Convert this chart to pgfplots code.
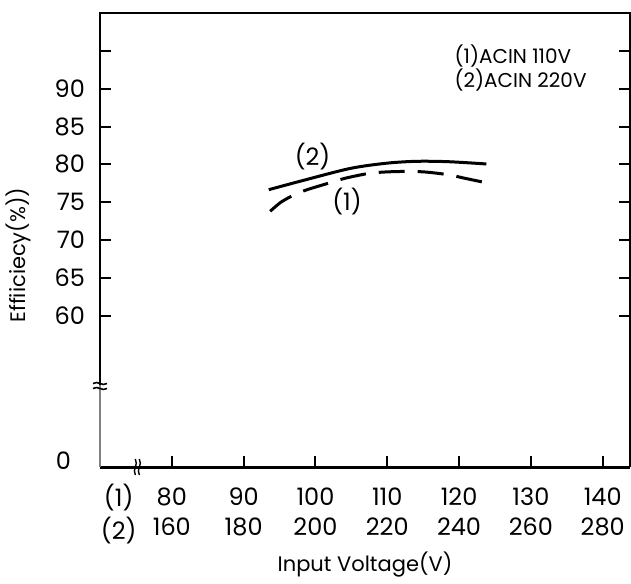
\documentclass[border=0pt]{standalone}
\usepackage{fontspec}
\setmainfont{Poppins}
\usepackage{pgfplots}
\pgfplotsset{compat=1.18}

\begin{document}
\begin{tikzpicture}
\begin{axis}[name=ax,
    scale only axis, width=265pt, height=227pt,
    xmin=70, xmax=143.8, ymin=40, ymax=100,
    axis line style={draw=none},
    clip=false,
    tick align=inside, major tick length=5.5pt,
    tick style={black, line width=1pt},
    xtick pos=bottom, ytick pos=both,
    xtick={80,90,...,140},
    xticklabels={\strut 80\\\strut 160, \strut 90\\\strut 180, \strut 100\\\strut 200,
        \strut 110\\\strut 220, \strut 120\\\strut 240, \strut 130\\\strut 260, \strut 140\\\strut 280},
    extra x ticks={72.6},
    extra x tick labels={\strut(1)\\\strut(2)},
    extra x tick style={major tick length=0pt},
    xticklabel style={align=center, font=\fontsize{12}{15}\selectfont, yshift=-5pt},
    ytick={60,65,...,95},
    yticklabels={60,65,70,75,80,85,90,{}},
    yticklabel style={font=\fontsize{12}{15}\selectfont, xshift=-4pt},
    /pgf/number format/assume math mode=true,
]
% (2) ACIN 220V
\addplot[black, line width=1.5pt, smooth] coordinates {
    (93.5,76.65) (97.8,77.75) (104.8,79.45) (109.9,80.15) (114.1,80.4) (118.5,80.35) (123.8,80.05)
};
% (1) ACIN 110V
\addplot[black, line width=1.5pt, smooth, dash pattern=on 13pt off 6.5pt] coordinates {
    (93.7,73.8) (95.2,75.0) (97.1,76.0) (99.0,76.7) (102.5,77.7) (104.3,78.2) (107.8,78.85)
    (111.5,79.05) (115.1,79.0) (118.7,78.6) (120.6,78.2) (124.1,77.5)
};
% frame
\draw[line width=1.2pt] (axis cs:70,50.8) -- (axis cs:70,100) -- (axis cs:143.8,100) -- (axis cs:143.8,40);
\draw[line width=1.5pt] (axis cs:70,40) -- (axis cs:143.8,40);
\draw[gray, line width=0.6pt] (axis cs:70,40) -- (axis cs:70,50.8);
% break marks
\draw[black, line width=0.8pt] ([shift={(-3.5pt,0.9pt)}]axis cs:70,50.8) .. controls ([shift={(-1pt,2.6pt)}]axis cs:70,50.8) and ([shift={(1pt,-0.8pt)}]axis cs:70,50.8) .. ([shift={(3.5pt,0.9pt)}]axis cs:70,50.8);
\draw[black, line width=0.8pt] ([shift={(-3.5pt,-1.6pt)}]axis cs:70,50.8) .. controls ([shift={(-1pt,0.1pt)}]axis cs:70,50.8) and ([shift={(1pt,-3.3pt)}]axis cs:70,50.8) .. ([shift={(3.5pt,-1.6pt)}]axis cs:70,50.8);
\draw[black, line width=0.7pt] ([shift={(-1pt,-4pt)}]axis cs:75.2,40) .. controls ([shift={(-2.7pt,-1pt)}]axis cs:75.2,40) and ([shift={(0.7pt,1pt)}]axis cs:75.2,40) .. ([shift={(-1pt,4pt)}]axis cs:75.2,40);
\draw[black, line width=0.7pt] ([shift={(1pt,-4pt)}]axis cs:75.2,40) .. controls ([shift={(-0.7pt,-1pt)}]axis cs:75.2,40) and ([shift={(2.7pt,1pt)}]axis cs:75.2,40) .. ([shift={(1pt,4pt)}]axis cs:75.2,40);
% texts
\node[anchor=east, font=\fontsize{12}{15}\selectfont] at ([xshift=-11pt]axis cs:70,40.8) {0};
\node[font=\fontsize{12}{15}\selectfont] at (axis cs:99.6,81.0) {(2)};
\node[font=\fontsize{12}{15}\selectfont] at (axis cs:104.4,75.1) {(1)};
\node[anchor=north east, align=left, inner sep=0pt, font=\fontsize{10}{9.6}\selectfont] at (axis cs:137.8,95.9) {(1)ACIN 110V\\(2)ACIN 220V};
\node[rotate=90, font=\fontsize{10.5}{13}\selectfont] at ([xshift=-41pt]axis cs:70,68) {Effiiciecy(\%))};
\node[font=\fontsize{10.5}{13}\selectfont] at ([yshift=-49pt]axis cs:106.9,40) {Input Voltage(V)};
\end{axis}
\pgfresetboundingbox
\path ([shift={(-50pt,-58pt)}]ax.south west) rectangle ([shift={(0.5pt,6.5pt)}]ax.north east);
\end{tikzpicture}
\end{document}
